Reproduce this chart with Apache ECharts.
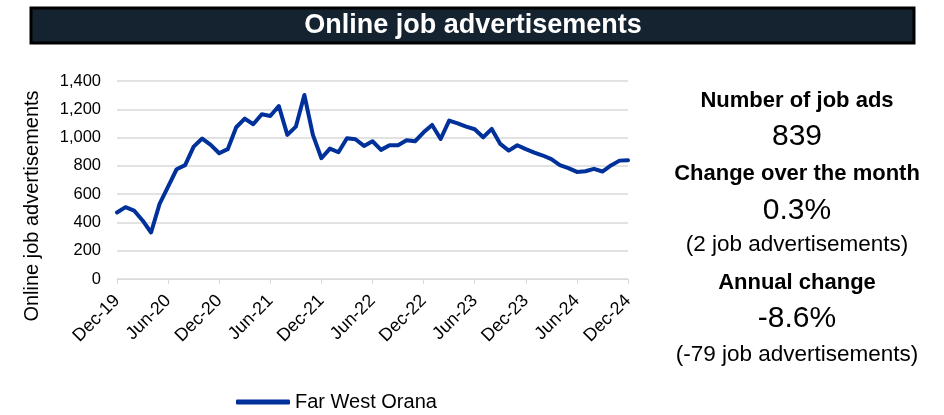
<!DOCTYPE html>
<html>
<head>
<meta charset="utf-8">
<script src="https://cdn.jsdelivr.net/npm/echarts@6/dist/echarts.min.js"></script>
<style>
html,body{margin:0;padding:0;background:#fff;}
#c{width:944px;height:415px;}
</style>
</head>
<body>
<div id="c"></div>
<script>
// Categories: monthly, Dec-2019 to Dec-2024
const monthNames = ['Jan','Feb','Mar','Apr','May','Jun','Jul','Aug','Sep','Oct','Nov','Dec'];
const categories = [];
for (let y = 2019; y <= 2024; y++) {
  for (let m = 0; m < 12; m++) {
    if (y === 2019 && m < 11) continue;
    categories.push(monthNames[m] + '-' + String(y).slice(2));
  }
}
const seriesName = 'Far West Orana';
const jobAds = [
  470, 508, 484, 414, 329, 531, 654, 776, 805, 936, 993, 948,
  889, 918, 1073, 1134, 1094, 1165, 1153, 1223, 1019, 1077, 1301, 1019,
  854, 922, 896, 995, 988, 941, 974, 913, 946, 946, 981, 974,
  1037, 1089, 990, 1120, 1101, 1077, 1059, 1002, 1061, 955, 908, 946,
  918, 894, 873, 847, 805, 784, 757, 762, 779, 760, 803, 837,
  839
];
const yTicks = {min: 0, max: 1400, interval: 200};
const titleText = 'Online job advertisements';
const yAxisTitle = 'Online job advertisements';
const statLines = [
  {text: 'Number of job ads', kind: 'head'},
  {text: '839', kind: 'big'},
  {text: 'Change over the month', kind: 'head'},
  {text: '0.3%', kind: 'big'},
  {text: '(2 job advertisements)', kind: 'small'},
  {text: 'Annual change', kind: 'head'},
  {text: '-8.6%', kind: 'big'},
  {text: '(-79 job advertisements)', kind: 'small'}
];
const statY = [101, 137, 174, 211, 245, 283, 319, 355];

const FONT = 'Arial, "Liberation Sans", sans-serif';
const chart = echarts.init(document.getElementById('c'));

const styles = {
  head: {fontSize: 22, fontWeight: 'bold'},
  big: {fontSize: 30, fontWeight: 'normal'},
  small: {fontSize: 22.5, fontWeight: 'normal'}
};
const graphics = [
  {type: 'rect', shape: {x: 31, y: 8, width: 883, height: 35},
   style: {fill: '#14232f', stroke: '#000', lineWidth: 3}, z: 10},
  {type: 'text', x: 473, y: 26, z: 11,
   style: {text: titleText, fill: '#fff', font: 'bold 27px ' + FONT, align: 'center', verticalAlign: 'middle'}},
  {type: 'text', x: 32, y: 206, rotation: Math.PI / 2,
   style: {text: yAxisTitle, fill: '#000', font: 'normal 20px ' + FONT, align: 'center', verticalAlign: 'middle'}}
];
statLines.forEach((s, i) => {
  const st = styles[s.kind];
  graphics.push({type: 'text', x: 797, y: statY[i],
    style: {text: s.text, fill: '#000', font: st.fontWeight + ' ' + st.fontSize + 'px ' + FONT,
      align: 'center', verticalAlign: 'middle'}});
});

chart.setOption({
  animation: false,
  backgroundColor: '#fff',
  graphic: graphics,
  grid: {left: 117, right: 316, top: 81, bottom: 136, containLabel: false},
  legend: {
    data: [{name: seriesName, icon: 'roundRect'}], left: 231, top: 387,
    itemWidth: 54, itemHeight: 5, itemGap: 4,
    textStyle: {fontFamily: FONT, fontSize: 20, color: '#000'}
  },
  xAxis: {
    type: 'category', data: categories, boundaryGap: false,
    axisLine: {lineStyle: {color: '#d9d9d9', width: 1}},
    axisTick: {show: true, interval: 5, length: 5, lineStyle: {color: '#d9d9d9'}},
    axisLabel: {interval: 5, rotate: 45, fontFamily: FONT, fontSize: 18, color: '#000', margin: 19},
    splitLine: {show: false}
  },
  yAxis: {
    type: 'value', min: yTicks.min, max: yTicks.max, interval: yTicks.interval,
    axisLine: {show: false}, axisTick: {show: false},
    axisLabel: {fontFamily: FONT, fontSize: 16.5, color: '#000', margin: 16,
      formatter: v => v.toLocaleString('en-US')},
    splitLine: {lineStyle: {color: '#d9d9d9', width: 1.5}}
  },
  series: [{
    name: seriesName, type: 'line', data: jobAds, symbol: 'none',
    lineStyle: {color: '#00309a', width: 4, join: 'round', cap: 'round'},
    itemStyle: {color: '#00309a'}
  }]
});
</script>
</body>
</html>
